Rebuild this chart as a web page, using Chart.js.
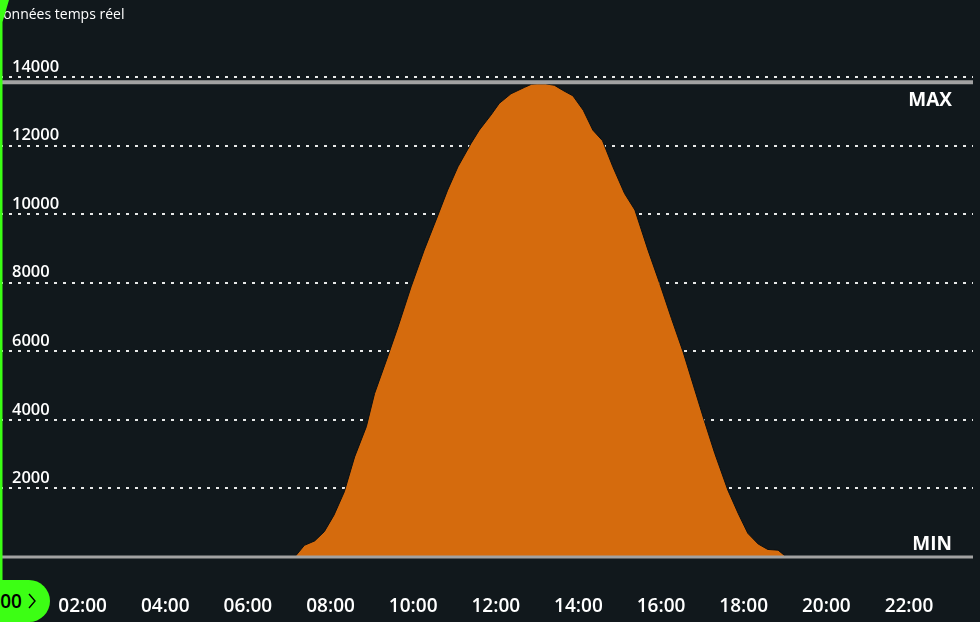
<!DOCTYPE html>
<html lang="fr">
<head>
<meta charset="utf-8">
<title>Données temps réel</title>
<script src="https://cdn.jsdelivr.net/npm/chart.js@4.4.1/dist/chart.umd.min.js"></script>
<style>
  html, body { margin: 0; padding: 0; background: #11181c; overflow: hidden; }
  #wrap { position: relative; width: 980px; height: 622px; }
  #rtChart { position: absolute; left: 0; top: 0; }
  .title {
    position: absolute; left: -7px; top: 4px;
    font: 14px "Open Sans", sans-serif; line-height: 20px; color: #fff;
    white-space: nowrap;
  }
  .edge {
    position: absolute; left: 0; top: 0; width: 9px; height: 580px;
    background: #3cff14;
    clip-path: polygon(0 0, 100% 0, 28% 22px, 28% 100%, 0 100%);
  }
  .pill {
    position: absolute; left: -50px; top: 580px; width: 100px; height: 42px;
    border-radius: 21px; background: #3cff14;
    display: flex; align-items: center; justify-content: flex-end;
    box-sizing: border-box; padding-right: 14px;
    font: 600 19px "Open Sans", sans-serif; color: #000;
  }
  .pill svg { margin-left: 6px; }
</style>
</head>
<body>
<div id="wrap">
  <canvas id="rtChart" width="980" height="622"></canvas>
  <div class="title">Données temps réel</div>
  <div class="edge"></div>
  <div class="pill"><span>00:00</span><svg width="8" height="16" viewBox="0 0 8 16"><polyline points="1,1 7,8 1,15" fill="none" stroke="#000" stroke-width="1.4"/></svg></div>
</div>
<script>
// Production en temps réel (W), relevés
const times = [
  '00:00', '07:08', '07:22', '07:37', '07:51', '08:05', '08:20', '08:35',
  '08:52', '09:04', '09:23', '09:38', '09:57', '10:16', '10:36', '10:50',
  '11:05', '11:24', '11:36', '11:53', '12:05', '12:22', '12:42', '12:52',
  '13:00', '13:12', '13:25', '13:37', '13:52', '14:07', '14:21', '14:35',
  '14:50', '15:07', '15:22', '15:41', '15:58', '16:15', '16:32', '16:49',
  '17:03', '17:18', '17:37', '17:52', '18:06', '18:21', '18:35', '18:50',
  '19:02', '23:45'
];
const power = [
  0, 0, 340, 470, 740, 1220, 1900, 2920,
  3800, 4770, 5840, 6710, 7880, 8950, 9970, 10700,
  11380, 12060, 12450, 12890, 13230, 13510, 13700, 13790,
  13800, 13800, 13760, 13615, 13450, 13030, 12450, 12140,
  11380, 10600, 10120, 8950, 7980, 6960, 5980, 4870,
  3960, 3020, 1950, 1270, 690, 380, 220, 200,
  0, 0
];

const yTicks = [0, 2000, 4000, 6000, 8000, 10000, 12000, 14000];
const xTickHours = [2, 4, 6, 8, 10, 12, 14, 16, 18, 20, 22];
const maxValue = 13850;
const minValue = 0;
const maxLabel = 'MAX';
const minLabel = 'MIN';

const toHours = (t) => {
  const [h, m] = t.split(':').map(Number);
  return h + m / 60;
};
const pad2 = (n) => String(n).padStart(2, '0');

const points = times.map((t, i) => ({ x: toHours(t), y: power[i] }));

// Lignes MAX / MIN et leurs libellés
const limitLines = {
  id: 'limitLines',
  afterDraw(chart) {
    const { ctx, chartArea, scales } = chart;
    const yMax = scales.y.getPixelForValue(maxValue);
    const yMin = scales.y.getPixelForValue(minValue);
    ctx.save();
    ctx.strokeStyle = '#a2a2a2';
    ctx.lineWidth = 4;
    ctx.beginPath();
    ctx.moveTo(chartArea.left, yMax);
    ctx.lineTo(chartArea.right, yMax);
    ctx.stroke();
    ctx.lineWidth = 3;
    ctx.beginPath();
    ctx.moveTo(chartArea.left, yMin);
    ctx.lineTo(chartArea.right, yMin);
    ctx.stroke();

    ctx.fillStyle = '#ffffff';
    ctx.font = 'bold 19px "Open Sans", sans-serif';
    ctx.textAlign = 'right';
    ctx.textBaseline = 'middle';
    ctx.fillText(maxLabel, chartArea.right - 21, yMax + 18);
    ctx.fillText(minLabel, chartArea.right - 21, yMin - 12);
    ctx.restore();
  }
};

new Chart(document.getElementById('rtChart'), {
  type: 'line',
  data: {
    datasets: [{
      data: points,
      fill: 'origin',
      backgroundColor: '#d56b0d',
      borderColor: '#0b1013',
      borderWidth: 1,
      pointRadius: 0,
      tension: 0
    }]
  },
  options: {
    responsive: false,
    animation: false,
    layout: { padding: { top: 77, left: 0, right: 7, bottom: 5 } },
    plugins: { legend: { display: false }, tooltip: { enabled: false } },
    scales: {
      x: {
        type: 'linear',
        min: 0,
        max: 23.55,
        afterFit: (s) => { s.height = 60; },
        grid: { display: false, drawTicks: false },
        border: { display: false },
        afterBuildTicks: (s) => { s.ticks = xTickHours.map(v => ({ value: v })); },
        ticks: {
          autoSkip: false,
          maxRotation: 0,
          padding: 38,
          color: '#ffffff',
          font: { family: '"Open Sans", sans-serif', size: 19, weight: 600 },
          callback: (v) => pad2(v) + ':00'
        }
      },
      y: {
        min: 0,
        max: 14000,
        z: 1,
        afterFit: (s) => { s.width = 0; },
        afterBuildTicks: (s) => { s.ticks = yTicks.map(v => ({ value: v })); },
        grid: {
          color: 'rgba(255,255,255,0.9)',
          lineWidth: 2,
          drawTicks: false
        },
        border: { display: false, dash: [3, 6] },
        ticks: {
          mirror: true,
          padding: 12,
          labelOffset: -10,
          color: '#ffffff',
          font: { family: '"Open Sans", sans-serif', size: 16.5, weight: 600 },
          callback: (v) => (v === 0 ? '' : String(v))
        }
      }
    }
  },
  plugins: [limitLines]
});
</script>
</body>
</html>
